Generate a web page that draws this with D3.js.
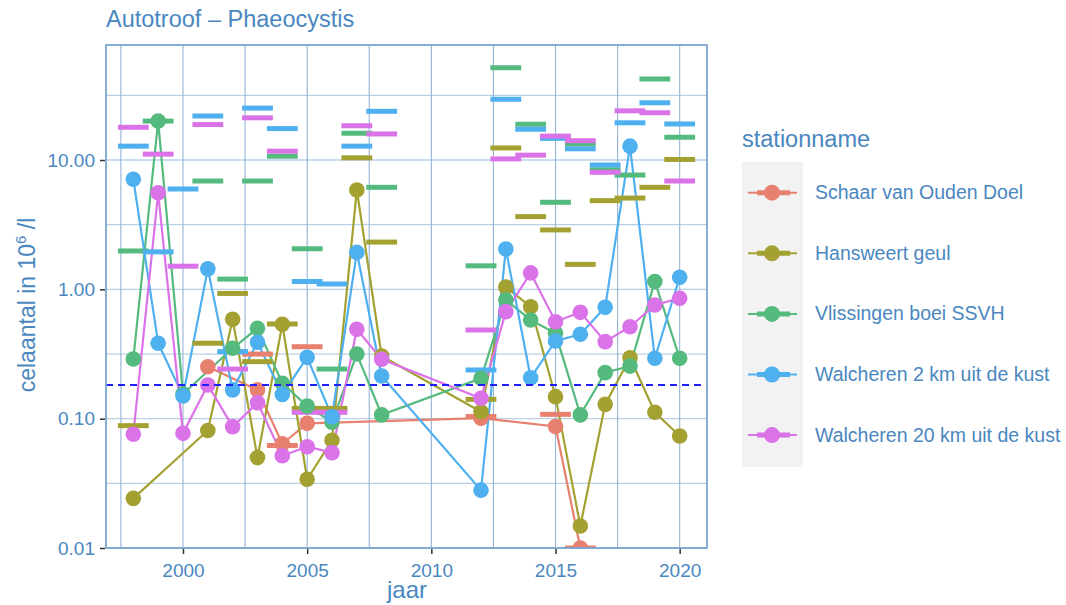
<!DOCTYPE html>
<html lang="nl">
<head>
<meta charset="utf-8">
<title>Autotroof - Phaeocystis</title>
<script src="https://cdnjs.cloudflare.com/ajax/libs/d3/7.8.5/d3.min.js"></script>
<style>
  body { margin: 0; background: #fff; }
  text { font-family: "Liberation Sans", Arial, Helvetica, sans-serif; fill: #4a87bf; }
</style>
</head>
<body>
<script>
// station names + colours (ggplot hue palette, as rendered)
var stations = ["Schaar van Ouden Doel", "Hansweert geul", "Vlissingen boei SSVH",
                "Walcheren 2 km uit de kust", "Walcheren 20 km uit de kust"];
var colors = ["#e8806f", "#a4a133", "#55ba7e", "#4fb0f0", "#da72e8"];

// measured values per year  [jaar, celaantal]
var schaarPoints = [[2001,0.252],[2003,0.167],[2004,0.064],[2005,0.092],[2012,0.101],[2015,0.087],[2016,0.01]];
var hansweertPoints = [[1998,0.0242],[2001,0.081],[2002,0.586],[2003,0.050],[2004,0.537],[2005,0.034],[2006,0.068],
  [2007,5.86],[2008,0.305],[2012,0.113],[2013,1.04],[2014,0.734],[2015,0.148],[2016,0.0148],[2017,0.129],
  [2018,0.296],[2019,0.112],[2020,0.0735]];
var vlissingenPoints = [[1998,0.289],[1999,20.0],[2000,0.155],[2002,0.35],[2003,0.50],[2004,0.188],[2005,0.125],
  [2006,0.094],[2007,0.316],[2008,0.107],[2012,0.205],[2013,0.827],[2014,0.58],[2015,0.457],[2016,0.107],
  [2017,0.227],[2018,0.255],[2019,1.15],[2020,0.293]];
var walch2Points = [[1998,7.1],[1999,0.383],[2000,0.150],[2001,1.44],[2002,0.167],[2003,0.39],[2004,0.154],
  [2005,0.298],[2006,0.1035],[2007,1.93],[2008,0.214],[2012,0.028],[2013,2.05],[2014,0.207],[2015,0.399],
  [2016,0.449],[2017,0.726],[2018,12.8],[2019,0.293],[2020,1.24]];
var walch20Points = [[1998,0.0757],[1999,5.58],[2000,0.077],[2001,0.182],[2002,0.0867],[2003,0.133],[2004,0.0517],
  [2005,0.0607],[2006,0.0546],[2007,0.491],[2008,0.288],[2012,0.144],[2013,0.672],[2014,1.34],[2015,0.562],
  [2016,0.664],[2017,0.394],[2018,0.514],[2019,0.757],[2020,0.853]];

// yearly reference bars  [jaar, waarde]
var schaarBars = [[2003,0.316],[2004,0.062],[2005,0.36],[2012,0.104],[2015,0.108],[2016,0.01]];
var hansweertBars = [[1998,0.0883],[2001,0.383],[2002,0.93],[2003,0.276],[2004,0.54],[2005,0.12],[2006,0.12],
  [2007,10.4],[2008,2.32],[2012,0.141],[2013,12.4],[2014,3.65],[2015,2.88],[2016,1.56],[2017,4.85],
  [2018,5.08],[2019,6.15],[2020,10.1]];
var vlissingenBars = [[1998,1.98],[1999,20.0],[2001,6.88],[2002,1.20],[2003,6.88],[2004,10.7],[2005,2.06],
  [2006,0.242],[2007,16.1],[2008,6.15],[2012,1.52],[2013,51.7],[2014,18.9],[2015,4.71],[2016,13.3],
  [2017,8.4],[2018,7.65],[2019,42.3],[2020,15.0]];
var walch2Bars = [[1998,12.8],[1999,1.95],[2000,5.97],[2001,21.9],[2002,0.33],[2003,25.2],[2004,17.5],
  [2005,1.15],[2006,1.10],[2007,12.8],[2008,23.8],[2012,0.238],[2013,29.5],[2014,17.3],[2015,14.7],
  [2016,12.2],[2017,9.15],[2018,19.4],[2019,27.7],[2020,19.0]];
var walch20Bars = [[1998,17.9],[1999,11.1],[2000,1.51],[2001,18.8],[2002,0.242],[2003,21.2],[2004,11.7],
  [2005,0.112],[2006,0.112],[2007,18.4],[2008,15.9],[2012,0.485],[2013,10.2],[2014,10.9],[2015,15.3],
  [2016,14.1],[2017,8.04],[2018,24.0],[2019,23.2],[2020,6.88]];

var threshold = 0.182;

var xMajor = [2000, 2005, 2010, 2015, 2020];
var xMinor = [1997.5, 2002.5, 2007.5, 2012.5, 2017.5];
var yMajor = [0.01, 0.1, 1, 10];
var yMinor = [0.0316, 0.316, 3.16, 31.6];

var pointSets = [schaarPoints, hansweertPoints, vlissingenPoints, walch2Points, walch20Points];
var barSets = [schaarBars, hansweertBars, vlissingenBars, walch2Bars, walch20Bars];

//Width and height
var w = 1066, h = 605;
var pL = 106, pR = 707, pT = 45, pB = 548;

var svg = d3.select("body").append("svg")
  .attr("width", w)
  .attr("height", h);

var x = d3.scaleLinear().domain([1996.9, 2021.1]).range([pL, pR]);
var y = d3.scaleLog().domain([0.01, 77.5]).range([pB, pT]);

svg.append("clipPath").attr("id", "panel")
  .append("rect")
  .attr("x", pL).attr("y", pT)
  .attr("width", pR - pL).attr("height", pB - pT);

// grid
var grid = svg.append("g");
grid.selectAll(".hy").data(yMinor.concat(yMajor)).enter().append("line")
  .attr("x1", pL).attr("x2", pR)
  .attr("y1", function(d) { return y(d); })
  .attr("y2", function(d) { return y(d); })
  .attr("stroke", "#b9d0e7")
  .attr("stroke-width", 1.3);
grid.selectAll(".vx").data(xMinor.concat(xMajor)).enter().append("line")
  .attr("y1", pT).attr("y2", pB)
  .attr("x1", function(d) { return x(d); })
  .attr("x2", function(d) { return x(d); })
  .attr("stroke", "#92b4d6")
  .attr("stroke-width", 1.1);

var plot = svg.append("g").attr("clip-path", "url(#panel)");

var line = d3.line()
  .x(function(d) { return x(d[0]); })
  .y(function(d) { return y(d[1]); });

pointSets.forEach(function(pts, i) {
  plot.append("path")
    .datum(pts)
    .attr("d", line)
    .attr("fill", "none")
    .attr("stroke", colors[i])
    .attr("stroke-width", 2.2);
});

barSets.forEach(function(bars, i) {
  plot.selectAll(".bar" + i).data(bars).enter().append("line")
    .attr("x1", function(d) { return x(d[0] - 0.62); })
    .attr("x2", function(d) { return x(d[0] + 0.62); })
    .attr("y1", function(d) { return y(d[1]); })
    .attr("y2", function(d) { return y(d[1]); })
    .attr("stroke", colors[i])
    .attr("stroke-width", 5);
});

pointSets.forEach(function(pts, i) {
  plot.selectAll(".pt" + i).data(pts).enter().append("circle")
    .attr("cx", function(d) { return x(d[0]); })
    .attr("cy", function(d) { return y(d[1]); })
    .attr("r", 7.8)
    .attr("fill", colors[i]);
});

plot.append("line")
  .attr("x1", pL).attr("x2", pR)
  .attr("y1", y(threshold)).attr("y2", y(threshold))
  .attr("stroke", "#1f1fff")
  .attr("stroke-width", 2)
  .attr("stroke-dasharray", "7,5");

// panel border
svg.append("rect")
  .attr("x", pL).attr("y", pT)
  .attr("width", pR - pL).attr("height", pB - pT)
  .attr("fill", "none")
  .attr("stroke", "#7ba6d0")
  .attr("stroke-width", 1.8);

// axes
var yAxis = svg.append("g")
  .attr("transform", "translate(" + (pL - 1) + ",0)")
  .call(d3.axisLeft(y).tickValues(yMajor).tickFormat(d3.format(".2f")).tickSize(5).tickPadding(5));
var xAxis = svg.append("g")
  .attr("transform", "translate(0," + (pB + 1) + ")")
  .call(d3.axisBottom(x).tickValues(xMajor).tickFormat(d3.format("d")).tickSize(5).tickPadding(10));
[yAxis, xAxis].forEach(function(a) {
  a.select(".domain").remove();
  a.selectAll(".tick line").attr("stroke", "#333").attr("stroke-width", 1.5);
  a.selectAll(".tick text").attr("fill", "#4a87bf").attr("font-size", "19px")
    .attr("font-family", "Liberation Sans, Arial, sans-serif");
});

// titles
svg.append("text")
  .attr("x", pL).attr("y", 27)
  .attr("font-size", "23.5px")
  .text("Autotroof \u2013 Phaeocystis");

svg.append("text")
  .attr("x", 407).attr("y", 598)
  .attr("text-anchor", "middle")
  .attr("font-size", "24px")
  .text("jaar");

var yt = svg.append("text")
  .attr("transform", "translate(35,305) rotate(-90)")
  .attr("text-anchor", "middle")
  .attr("font-size", "23px");
yt.append("tspan").text("celaantal in  10");
yt.append("tspan").attr("font-size", "15px").attr("dy", -9).text("6");
yt.append("tspan").attr("dy", 9).text(" /l");

// legend
svg.append("text")
  .attr("x", 742).attr("y", 147)
  .attr("font-size", "23.5px")
  .text("stationname");

svg.append("rect")
  .attr("x", 742).attr("y", 162)
  .attr("width", 61).attr("height", 305)
  .attr("fill", "#f2f2f2");

var keys = svg.selectAll(".key").data(stations).enter().append("g")
  .attr("transform", function(d, i) { return "translate(0," + (192.7 + i * 60.6) + ")"; });
keys.append("line")
  .attr("x1", 748).attr("x2", 797)
  .attr("stroke", function(d, i) { return colors[i]; })
  .attr("stroke-width", 2);
keys.append("line")
  .attr("x1", 757).attr("x2", 790)
  .attr("stroke", function(d, i) { return colors[i]; })
  .attr("stroke-width", 5);
keys.append("circle")
  .attr("cx", 772).attr("r", 8)
  .attr("fill", function(d, i) { return colors[i]; });
keys.append("text")
  .attr("x", 815).attr("y", 6.5)
  .attr("font-size", "19.5px")
  .text(function(d) { return d; });
</script>
</body>
</html>
